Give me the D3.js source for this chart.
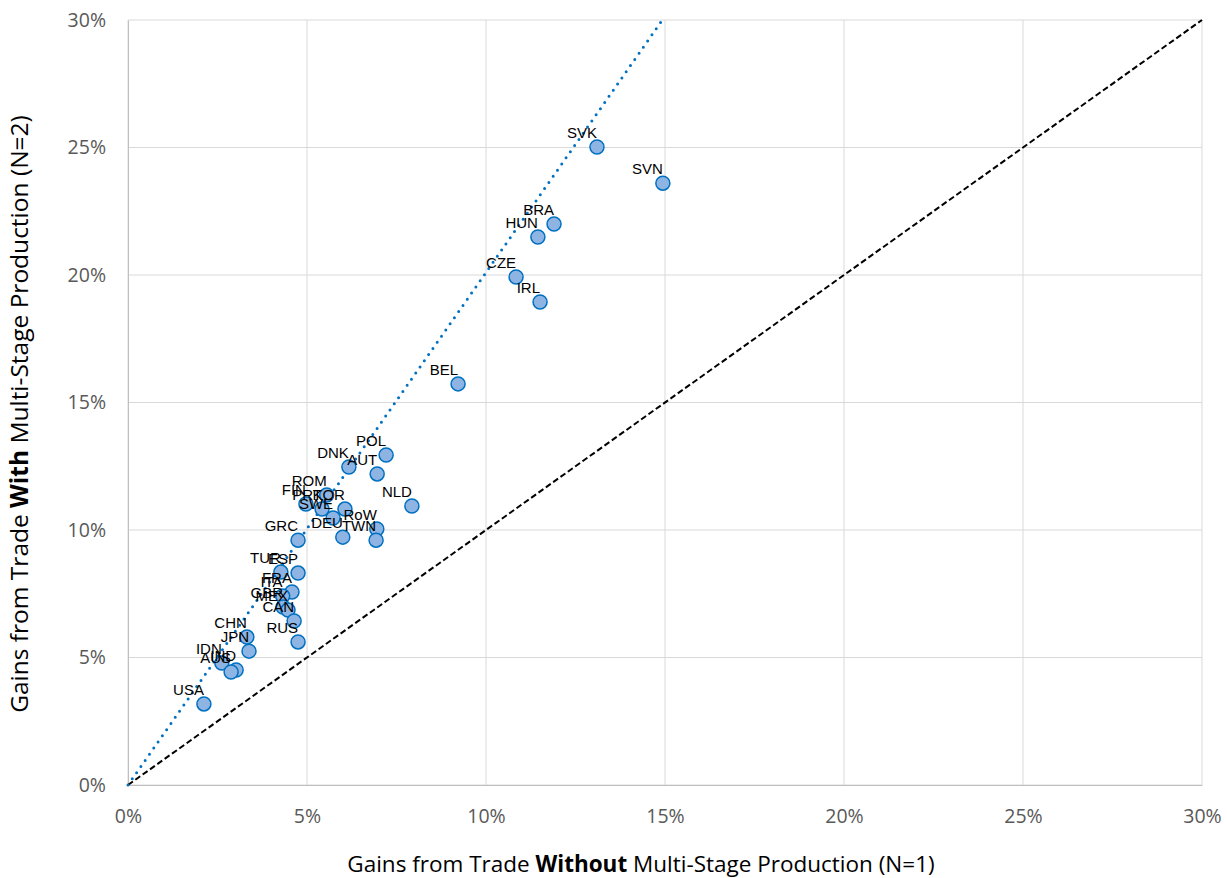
<!DOCTYPE html>
<html>
<head>
<meta charset="utf-8">
<script src="https://cdn.jsdelivr.net/npm/d3@7"></script>
<style>
  html, body { margin: 0; padding: 0; background: #fff; }
  svg { display: block; }
</style>
</head>
<body>
<svg id="chart" width="1227" height="878"></svg>
<script>
// ---- data (gains from trade, %) ----
const countries = ["SVK","SVN","BRA","HUN","CZE","IRL","BEL","POL","DNK","AUT","NLD",
  "ROM","FIN","PRT","KOR","SWE","DEU","RoW","TWN","GRC",
  "TUR","ESP","FRA","ITA","GBR","MEX","CAN","RUS",
  "CHN","JPN","IDN","IND","AUS","USA"];
const gainsN1 = [13.10,14.94,11.90,11.45,10.84,11.51,9.22,7.21,6.17,6.96,7.93,
  5.55,4.97,5.42,6.06,5.73,6.00,6.95,6.93,4.75,
  4.27,4.75,4.58,4.32,4.33,4.47,4.64,4.75,
  3.32,3.38,2.62,3.02,2.88,2.12];
const gainsN2 = [25.02,23.60,22.00,21.49,19.92,18.94,15.73,12.94,12.47,12.20,10.94,
  11.37,11.02,10.82,10.82,10.47,9.72,10.04,9.60,9.60,
  8.35,8.31,7.57,7.41,6.98,6.86,6.43,5.61,
  5.80,5.25,4.78,4.51,4.43,3.18];
const xTicks = [0,5,10,15,20,25,30];
const yTicks = [0,5,10,15,20,25,30];
const trendSlope = 2.01;      // dotted fitted line through origin
const axisMax = 30;

// ---- layout ----
const W = 1227, H = 878;
const m = {left:128, right:25, top:20, bottom:93};
const svg = d3.select("#chart");
const x = d3.scaleLinear().domain([0,axisMax]).range([m.left, W-m.right]);
const y = d3.scaleLinear().domain([0,axisMax]).range([H-m.bottom, m.top]);
const tickFont = "'Open Sans', sans-serif";

// gridlines
const grid = svg.append("g");
grid.selectAll("line.v").data(xTicks).join("line")
  .attr("x1", d=>x(d)).attr("x2", d=>x(d))
  .attr("y1", y(0)).attr("y2", y(axisMax))
  .attr("stroke", "#d9d9d9").attr("stroke-width", 1);
grid.selectAll("line.h").data(yTicks).join("line")
  .attr("y1", d=>y(d)).attr("y2", d=>y(d))
  .attr("x1", x(0)).attr("x2", x(axisMax))
  .attr("stroke", "#d9d9d9").attr("stroke-width", 1);

// axes (labels only, via d3 axis)
const fmt = d => d + "%";
const xAxis = svg.append("g").attr("transform", `translate(0,${y(0)})`)
  .call(d3.axisBottom(x).tickValues(xTicks).tickFormat(fmt).tickSize(0).tickPadding(24));
const yAxis = svg.append("g").attr("transform", `translate(${x(0)},0)`)
  .call(d3.axisLeft(y).tickValues(yTicks).tickFormat(fmt).tickSize(0).tickPadding(22));
[xAxis, yAxis].forEach(g => {
  g.select(".domain").attr("stroke", "#bfbfbf");
  g.selectAll("text").attr("font-family", tickFont).attr("font-size", 19.5).attr("fill", "#595959");
});

// 45-degree reference line
svg.append("line")
  .attr("x1", x(0)).attr("y1", y(0)).attr("x2", x(axisMax)).attr("y2", y(axisMax))
  .attr("stroke", "#000").attr("stroke-width", 2).attr("stroke-dasharray", "6,3");

// dotted trend line
const xEnd = axisMax / trendSlope;
svg.append("line")
  .attr("x1", x(0)).attr("y1", y(0)).attr("x2", x(xEnd)).attr("y2", y(trendSlope*xEnd))
  .attr("stroke", "#0070c0").attr("stroke-width", 3)
  .attr("stroke-linecap", "round").attr("stroke-dasharray", "0,7.5");

// points
const pts = countries.map((c,i)=>({c, a:gainsN1[i], b:gainsN2[i]}));
svg.append("g").selectAll("circle").data(pts).join("circle")
  .attr("cx", d=>x(d.a)).attr("cy", d=>y(d.b)).attr("r", 7)
  .attr("fill", "#8eb4e3").attr("stroke", "#0070c0").attr("stroke-width", 1.5);

// labels
svg.append("g").selectAll("text").data(pts).join("text")
  .attr("x", d=>x(d.a)).attr("y", d=>y(d.b)-9)
  .attr("text-anchor", "end")
  .attr("font-family", "'Liberation Sans', Arial, sans-serif").attr("font-size", 15)
  .attr("fill", "#000")
  .text(d=>d.c);

// axis titles
const xt = svg.append("text")
  .attr("x", 641).attr("y", 872)
  .attr("text-anchor", "middle")
  .attr("font-family", tickFont).attr("font-size", 22.5).attr("fill", "#000");
xt.append("tspan").text("Gains from Trade ");
xt.append("tspan").attr("font-weight", "bold").text("Without");
xt.append("tspan").text(" Multi-Stage Production (N=1)");

const yt = svg.append("text")
  .attr("transform", `translate(28,414) rotate(-90)`)
  .attr("text-anchor", "middle")
  .attr("font-family", tickFont).attr("font-size", 24.5).attr("fill", "#000");
yt.append("tspan").text("Gains from Trade ");
yt.append("tspan").attr("font-weight", "bold").text("With");
yt.append("tspan").text(" Multi-Stage Production (N=2)");
</script>
</body>
</html>
